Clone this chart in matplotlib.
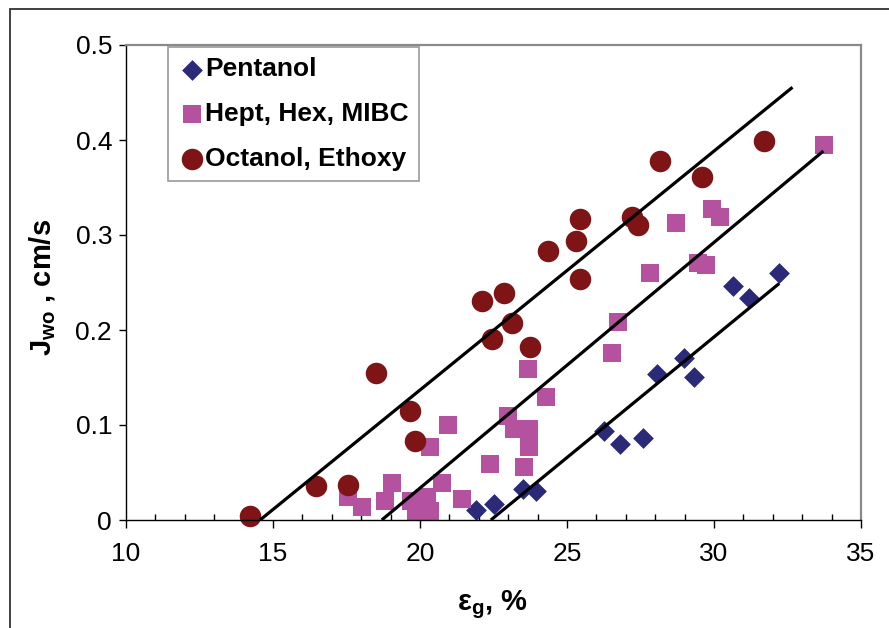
import numpy as np
import matplotlib as mpl
mpl.use('Agg')
import matplotlib.pyplot as plt
from matplotlib.patches import Rectangle
from matplotlib.ticker import MultipleLocator

plt.rcParams['font.family'] = ['Liberation Sans', 'DejaVu Sans']
plt.rcParams['mathtext.fontset'] = 'custom'
plt.rcParams['mathtext.rm'] = 'Liberation Sans'
plt.rcParams['mathtext.bf'] = 'Liberation Sans:bold'

# Pentanol
pent_x = [21.9, 22.5, 23.5, 23.95, 26.26, 26.8, 27.6, 28.05, 28.98, 29.31, 30.66, 31.2, 32.22]
pent_y = [0.0105, 0.017, 0.033, 0.031, 0.094, 0.080, 0.086, 0.154, 0.171, 0.151, 0.246, 0.234, 0.260]

# Hept, Hex, MIBC
hept_x = [17.56, 18.02, 19.04, 18.8, 19.71, 20.25, 19.85, 20.34, 20.74, 20.34, 20.94, 21.42,
          22.38, 23.0, 23.2, 23.72, 23.72, 23.54, 23.66, 24.27, 26.53, 26.72, 27.82, 28.71,
          29.92, 30.2, 29.47, 29.73, 33.74]
hept_y = [0.0245, 0.014, 0.039, 0.020, 0.020, 0.024, 0.009, 0.009, 0.039, 0.077, 0.100, 0.022,
          0.059, 0.109, 0.0955, 0.0955, 0.077, 0.056, 0.159, 0.130, 0.176, 0.208, 0.260, 0.313,
          0.327, 0.319, 0.271, 0.268, 0.395]

# Octanol, Ethoxy
oct_x = [14.22, 16.46, 17.54, 18.5, 19.66, 19.84, 22.1, 22.86, 22.45, 23.13, 23.74, 24.35,
         25.44, 25.29, 25.44, 28.16, 29.58, 31.69, 27.2, 27.4]
oct_y = [0.004, 0.036, 0.037, 0.155, 0.115, 0.083, 0.231, 0.239, 0.191, 0.207, 0.182, 0.283,
         0.317, 0.294, 0.254, 0.378, 0.361, 0.399, 0.319, 0.311]

# fitted lines (end points)
fit_oct_x = [14.56, 32.67]
fit_oct_y = [0.0, 0.4555]
fit_hept_x = [18.7, 33.72]
fit_hept_y = [0.0, 0.3884]
fit_pent_x = [22.41, 32.22]
fit_pent_y = [0.0, 0.249]

fig = plt.figure(figsize=(8.89, 6.28), dpi=100)
ax = fig.add_axes([126 / 889, 1 - 520 / 628, 735 / 889, 475 / 628])

# outer chart frame
fig.add_artist(Rectangle((10 / 889, -0.1), 1.0, 1.1 - 9 / 628, transform=fig.transFigure,
                         fill=False, edgecolor='#333333', linewidth=1.3))

for xs, ys in [(fit_oct_x, fit_oct_y), (fit_hept_x, fit_hept_y), (fit_pent_x, fit_pent_y)]:
    ax.plot(xs, ys, color='black', linewidth=2.3, zorder=3, solid_capstyle='butt')

ax.scatter(pent_x, pent_y, marker='D', s=112, color='#2A2A78', linewidths=0,
           label='Pentanol', zorder=2, clip_on=False)
ax.scatter(hept_x, hept_y, marker='s', s=160, color='#B552A0', linewidths=0,
           label='Hept, Hex, MIBC', zorder=2, clip_on=False)
ax.scatter(oct_x, oct_y, marker='o', s=240, color='#7E1416', linewidths=0,
           label='Octanol, Ethoxy', zorder=2, clip_on=False)

ax.set_xlim(10, 35)
ax.set_ylim(0, 0.5)
ax.xaxis.set_major_locator(MultipleLocator(5))
ax.xaxis.set_minor_locator(MultipleLocator(1))
ax.set_yticks([0, 0.1, 0.2, 0.3, 0.4, 0.5])
ax.set_yticklabels(['0', '0.1', '0.2', '0.3', '0.4', '0.5'])

ax.tick_params(axis='x', which='major', direction='out', length=6, width=1, labelsize=19, pad=10)
ax.tick_params(axis='x', which='minor', direction='in', length=4, width=1)
ax.tick_params(axis='y', which='major', direction='out', length=5, width=1, labelsize=19, pad=5)

for s in ['left', 'bottom']:
    ax.spines[s].set_color('black')
    ax.spines[s].set_linewidth(1.0)
for s in ['top', 'right']:
    ax.spines[s].set_color('#8a8a8a')
    ax.spines[s].set_linewidth(1.6)

ax.set_xlabel(r'ε$\mathbf{_g}$, %', fontsize=21, fontweight='bold')
ax.set_ylabel(r'J$\mathbf{_{wo}}$ , cm/s', fontsize=21, fontweight='bold')
ax.xaxis.set_label_coords(0.498, -0.143)
ax.yaxis.set_label_coords(-0.092, 0.49)

leg = ax.legend(loc='upper left', bbox_to_anchor=(0.057, 0.996),
                prop={'weight': 'bold', 'size': 19}, frameon=True, fancybox=False,
                borderpad=0.4, labelspacing=0.78, handletextpad=0.0, handlelength=1.0,
                borderaxespad=0.0, scatterpoints=1)
leg.get_frame().set_edgecolor('#808080')
leg.get_frame().set_linewidth(1.2)

plt.savefig('out.png', dpi=100)
